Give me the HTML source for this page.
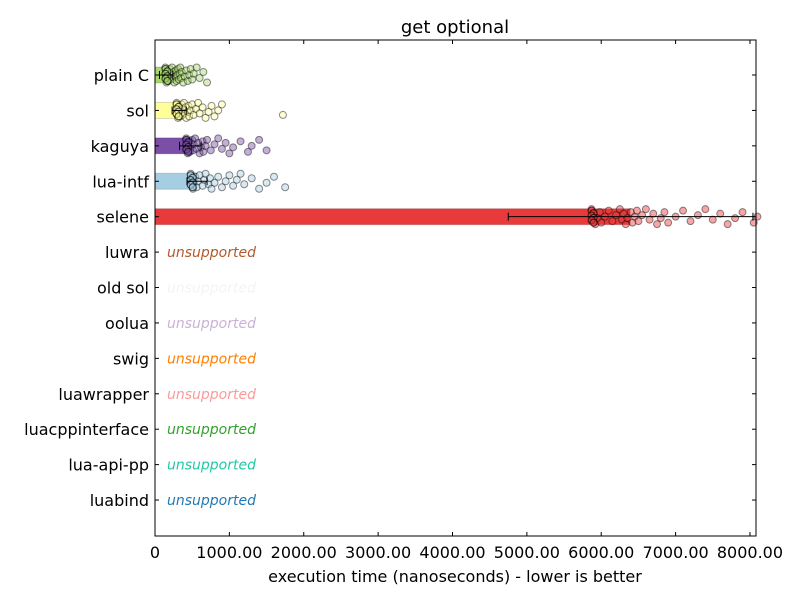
<!DOCTYPE html>
<html><head><meta charset="utf-8"><style>
body{margin:0;background:#fff;}
svg text{font-family:"DejaVu Sans","Liberation Sans",sans-serif;}
</style></head><body>
<svg id="chart" width="800" height="600" viewBox="0 0 800 600" xmlns="http://www.w3.org/2000/svg">
<rect x="0" y="0" width="800" height="600" fill="#fff"/>
<text x="455" y="33" font-size="18" text-anchor="middle">get optional</text>
<g id="plot"></g>
<rect x="155" y="40" width="601" height="496" fill="none" stroke="#000" stroke-width="1"/>
<text x="455" y="582" font-size="16" text-anchor="middle">execution time (nanoseconds) - lower is better</text>
</svg>
<script>
const categories = ["plain C","sol","kaguya","lua-intf","selene","luwra","old sol","oolua","swig","luawrapper","luacppinterface","lua-api-pp","luabind"];
const means = [135, 310, 500, 565, 6390, null, null, null, null, null, null, null, null];
const errLow = [60, 230, 330, 430, 4750, null, null, null, null, null, null, null, null];
const errHigh = [240, 420, 620, 700, 8040, null, null, null, null, null, null, null, null];
const samples = [
 [140,145,150,155,160,170,180,190,200,210,220,230,240,250,260,270,280,290,300,310,320,330,340,350,360,380,400,420,440,460,480,500,520,560,600,650,700],
 [290,295,300,310,320,330,340,350,360,370,380,390,400,410,420,440,450,460,480,500,520,550,580,600,640,680,720,760,800,850,900,1720],
 [420,425,430,440,450,460,470,480,500,510,520,540,560,580,600,620,640,650,680,700,750,800,850,900,950,1000,1050,1150,1250,1300,1400,1500],
 [480,490,500,510,520,540,560,580,600,640,660,680,720,740,760,800,850,900,950,1000,1050,1100,1150,1200,1300,1400,1500,1600,1750],
 [5870,5880,5900,5920,5950,5980,6000,6050,6100,6150,6200,6250,6280,6300,6330,6350,6400,6420,6450,6480,6500,6550,6600,6650,6700,6750,6800,6850,6900,7000,7100,7200,7300,7400,7500,7600,7700,7800,7900,8050,8100]
];
const xTicks = [0,1000,2000,3000,4000,5000,6000,7000,8000];
const xTickLabels = ["0","1000.00","2000.00","3000.00","4000.00","5000.00","6000.00","7000.00","8000.00"];
const colors = ["#a6d96a","#ffff99","#7b4ea8","#a6cee3","#e8393b","#b15928","#f4f4f4","#cab2d6","#ff7f00","#fb9a99","#33a02c","#1fc9a4","#1f78b4"];

const NS="http://www.w3.org/2000/svg";
const X0=155,X1=756,XMAX=8081,Y1=536;
const xs=v=>X0+(v/XMAX)*(X1-X0);
const ys=i=>75+i*35.42;
const svg=document.getElementById('chart');
const plot=document.getElementById('plot');
function mk(tag,attrs,parent){const e=document.createElementNS(NS,tag);for(const k in attrs)e.setAttribute(k,attrs[k]);(parent||plot).appendChild(e);return e;}

categories.forEach((c,i)=>{
 const y=ys(i);
 const lab=mk('text',{x:149,y:y+6,'font-size':16,'text-anchor':'end'},svg);
 
 
 lab.textContent=c;
 const t1=mk('line',{x1:X0,x2:X0+4,y1:y,y2:y,stroke:'#000'},svg);
 
 
 const t2=mk('line',{x1:X1-4,x2:X1,y1:y,y2:y,stroke:'#000'},svg);
 
 
 if(means[i]==null){
  const u=mk('text',{x:167,y:y+5,'font-size':14,'font-style':'italic',fill:colors[i]});
  
  
  u.textContent='unsupported';
  return;
 }
 const b=mk('rect',{x:X0,y:y-8,width:xs(means[i])-X0,height:16,fill:colors[i],stroke:'#000','stroke-opacity':0.15});
 
 
 const pts=samples[i];
 pts.forEach((v,j)=>{
  const jit=((j*7)%11-5)*1.5;
  const p=mk('circle',{cx:xs(v),cy:y+jit,r:3.5,fill:colors[i],'fill-opacity':0.45,stroke:'#000','stroke-opacity':0.45});
  
  
 });
 for(let k=0;k<6;k++){
  const p=mk('circle',{cx:xs(pts[0])+(k%2)*2,cy:y-6+k*2.4,r:3.5,fill:colors[i],'fill-opacity':0.6,stroke:'#000','stroke-opacity':0.7});
  
  
 }
 const eg=mk('g',{stroke:'#000','stroke-width':1});
 
 
 mk('line',{x1:xs(errLow[i]),x2:xs(errHigh[i]),y1:y,y2:y},eg);
 mk('line',{x1:xs(errLow[i]),x2:xs(errLow[i]),y1:y-4,y2:y+4},eg);
 mk('line',{x1:xs(errHigh[i]),x2:xs(errHigh[i]),y1:y-4,y2:y+4},eg);
});
xTicks.forEach((v,i)=>{
 const x=xs(v);
 const a=mk('line',{x1:x,x2:x,y1:Y1-4,y2:Y1,stroke:'#000'},svg);
 
 
 const b=mk('line',{x1:x,x2:x,y1:40,y2:44,stroke:'#000'},svg);
 
 
 const t=mk('text',{x:x,y:558,'font-size':16,'text-anchor':'middle'},svg);
 
 
 t.textContent=xTickLabels[i];
});
</script>
</body></html>
